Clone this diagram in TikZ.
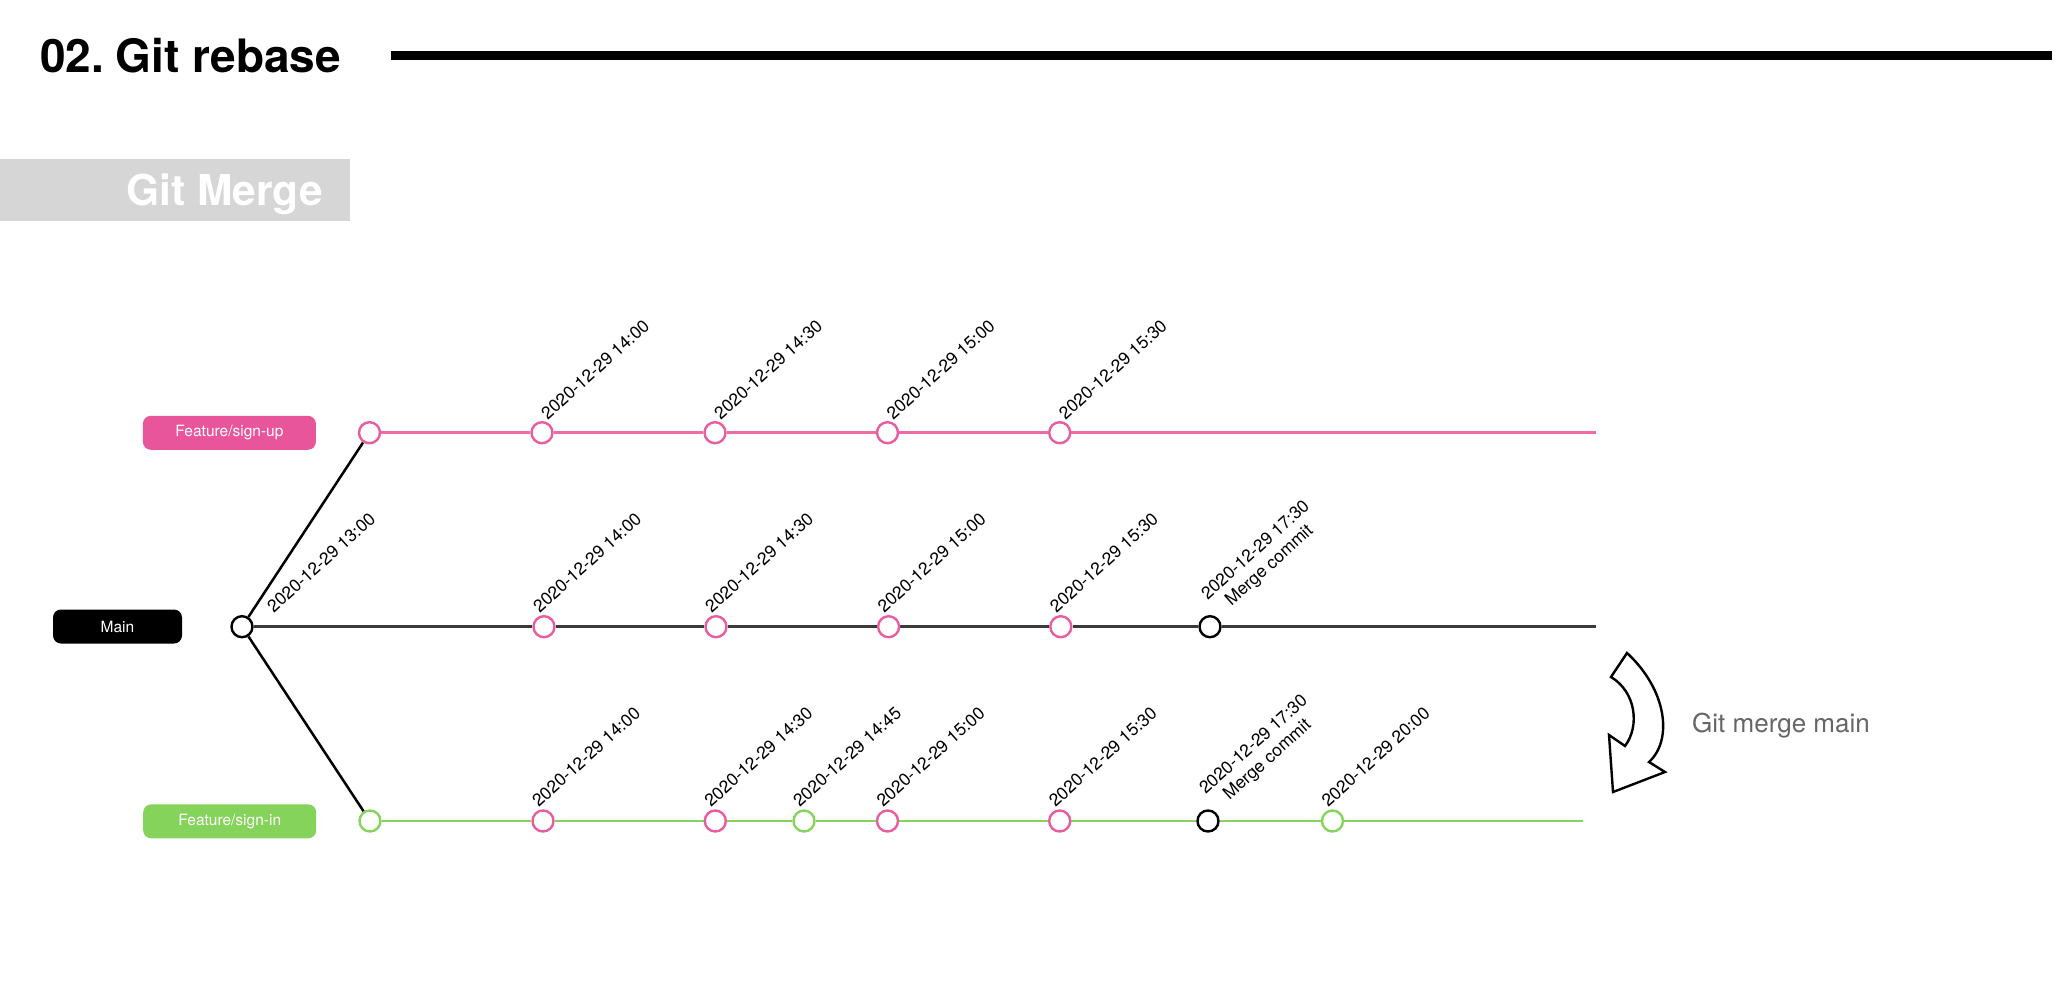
\documentclass[tikz,border=0pt]{standalone}
\usepackage{fontspec}
\setmainfont{TeX Gyre Heros}
\usetikzlibrary{backgrounds}
\definecolor{pinkc}{HTML}{E95D9E}
\definecolor{pinkbox}{HTML}{E8559B}
\definecolor{pinkline}{HTML}{F06AA8}
\definecolor{greenc}{HTML}{86D45B}
\definecolor{greenbox}{HTML}{85D35A}
\definecolor{mainline}{HTML}{3A3A3A}
\definecolor{graybox}{HTML}{D6D6D6}
\definecolor{graytext}{HTML}{666666}
\begin{document}
\begin{tikzpicture}[x=1pt,y=-1pt,
  cmt/.style={circle,draw,fill=white,line width=2.4pt,minimum size=21pt,inner sep=0pt},
  pk/.style={cmt,draw=pinkc},
  gr/.style={cmt,draw=greenc},
  bk/.style={cmt,draw=black},
  lbl/.style={rotate=42,anchor=south west,inner sep=0pt,font=\fontsize{17.5}{20.5}\selectfont,text=black},
  tag/.style={rounded corners=8pt,minimum height=34pt,text=white,font=\fontsize{15.5}{18}\selectfont,inner sep=0pt},
]
\useasboundingbox (0,0) rectangle (2072,998);

% header
\node[anchor=base west,inner sep=0pt,font=\bfseries\fontsize{46}{50}\selectfont] (title) at (40,72.7) {02.\hspace{0.25em}Git rebase};
\coordinate (hl1) at (391,55.3);
\coordinate (hl2) at (2052,55.3);
\draw[line width=9.5pt] (hl1) -- (hl2);

\node[fill=graybox,minimum width=350pt,minimum height=62pt,anchor=north west,inner sep=0pt] (gmbox) at (0,159) {};
\node[anchor=base west,inner sep=0pt,text=white,font=\bfseries\fontsize{42.5}{46}\selectfont] (gmtext) at (126,205) {Git Merge};

% branch tags
\node[tag,fill=pinkbox,minimum width=173pt] (tsu) at (229.4,432.8) {Feature/sign-up};
\node[tag,fill=black,minimum width=129pt] (tm) at (117.5,626.5) {Main};
\node[tag,fill=greenbox,minimum width=173pt] (tsi) at (229.7,821.3) {Feature/sign-in};

% sign-up row
\node[pk] (s0) at (369.5,432.7) {};
\node[pk] (s1) at (542,432.7) {};
\node[pk] (s2) at (715,432.7) {};
\node[pk] (s3) at (887.5,432.7) {};
\node[pk] (s4) at (1059.7,432.7) {};
\coordinate (send) at (1596,432.7);

% main row
\node[bk] (m0) at (242,626.7) {};
\node[pk] (m1) at (544,626.7) {};
\node[pk] (m2) at (716,626.7) {};
\node[pk] (m3) at (888.6,626.7) {};
\node[pk] (m4) at (1060.8,626.7) {};
\node[bk] (m5) at (1210,626.7) {};
\coordinate (mend) at (1596,626.7);

% sign-in row
\node[gr] (i0) at (370,821) {};
\node[pk] (i1) at (543,821) {};
\node[pk] (i2) at (715.3,821) {};
\node[gr] (i3) at (804,821) {};
\node[pk] (i4) at (887.5,821) {};
\node[pk] (i5) at (1059.7,821) {};
\node[bk] (i6) at (1208,821) {};
\node[gr] (i7) at (1332.5,821) {};
\coordinate (iend) at (1583,821);

\begin{scope}[on background layer]
\draw[pinkline,line width=2.5pt] (s0) -- (s1) -- (s2) -- (s3) -- (s4) -- (send);
\draw[mainline,line width=3pt] (m0) -- (m1) -- (m2) -- (m3) -- (m4) -- (m5) -- (mend);
\draw[greenc,line width=2.5pt] (i0) -- (i1) -- (i2) -- (i3) -- (i4) -- (i5) -- (i6) -- (i7) -- (iend);
\draw[black,line width=2.5pt] (m0) -- (s0);
\draw[black,line width=2.5pt] (m0) -- (i0);
\end{scope}

% labels
\node[lbl] at ([shift={(32,-13)}]m0.center) {2020-12-29 13:00};
\node[lbl] at ([shift={(6,-12)}]s1.center) {2020-12-29 14:00};
\node[lbl] at ([shift={(6,-12)}]s2.center) {2020-12-29 14:30};
\node[lbl] at ([shift={(6,-12)}]s3.center) {2020-12-29 15:00};
\node[lbl] at ([shift={(6,-12)}]s4.center) {2020-12-29 15:30};

\node[lbl] at ([shift={(-4,-13)}]m1.center) {2020-12-29 14:00};
\node[lbl] at ([shift={(-4,-13)}]m2.center) {2020-12-29 14:30};
\node[lbl] at ([shift={(-4,-13)}]m3.center) {2020-12-29 15:00};
\node[lbl] at ([shift={(-4,-13)}]m4.center) {2020-12-29 15:30};
\node[lbl,align=center] at ([shift={(14,-8)}]m5.center) {2020-12-29 17:30\\Merge commit};

\node[lbl] at ([shift={(-4,-13)}]i1.center) {2020-12-29 14:00};
\node[lbl] at ([shift={(-4,-13)}]i2.center) {2020-12-29 14:30};
\node[lbl] at ([shift={(-4,-13)}]i3.center) {2020-12-29 14:45};
\node[lbl] at ([shift={(-4,-13)}]i4.center) {2020-12-29 15:00};
\node[lbl] at ([shift={(-4,-13)}]i5.center) {2020-12-29 15:30};
\node[lbl,align=center] at ([shift={(14,-8)}]i6.center) {2020-12-29 17:30\\Merge commit};
\node[lbl] at ([shift={(-4,-13)}]i7.center) {2020-12-29 20:00};

% curved merge arrow
\draw[line width=2.4pt,fill=white,line join=miter]
  (1627,653) -- (1611,677) .. controls (1636,692) and (1640,726) .. (1625,746)
  -- (1609,735) -- (1613,792) -- (1665,772) -- (1649,762)
  .. controls (1673,740) and (1667,690) .. (1627,653) -- cycle;
\node[anchor=base west,inner sep=0pt,text=graytext,font=\fontsize{26}{30}\selectfont] (gmm) at (1692,732) {Git merge main};
\end{tikzpicture}
\end{document}
